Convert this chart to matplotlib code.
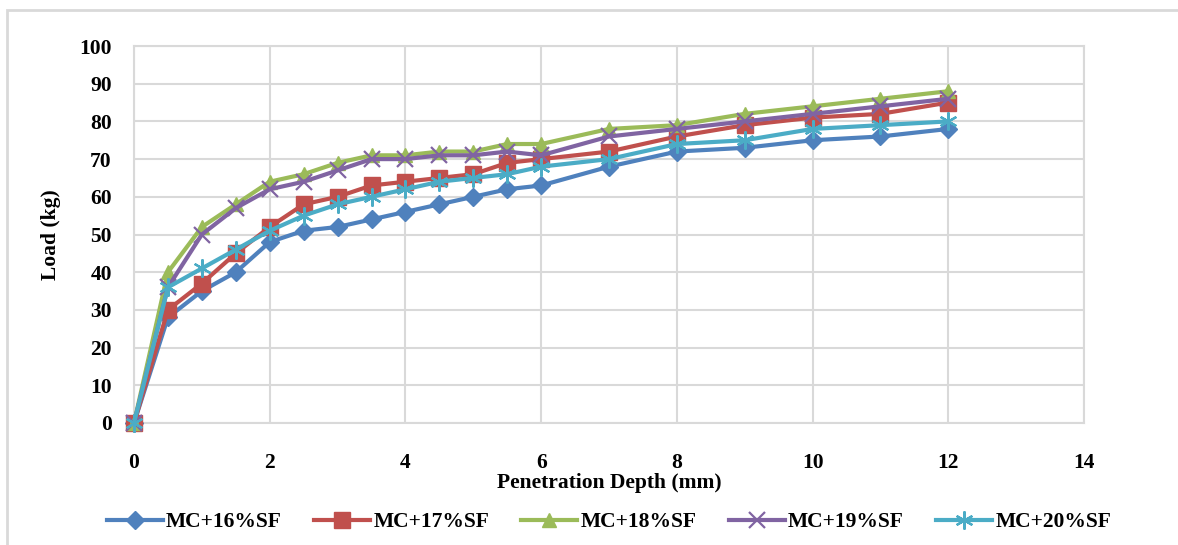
import matplotlib.pyplot as plt
from matplotlib.patches import Rectangle

# Data
depth = [0, 0.5, 1, 1.5, 2, 2.5, 3, 3.5, 4, 4.5, 5, 5.5, 6, 7, 8, 9, 10, 11, 12]

load_16 = [0, 28, 35, 40, 48, 51, 52, 54, 56, 58, 60, 62, 63, 68, 72, 73, 75, 76, 78]
load_17 = [0, 30, 37, 45, 52, 58, 60, 63, 64, 65, 66, 69, 70, 72, 76, 79, 81, 82, 85]
load_18 = [0, 40, 52, 58, 64, 66, 69, 71, 71, 72, 72, 74, 74, 78, 79, 82, 84, 86, 88]
load_19 = [0, 36, 50, 57, 62, 64, 67, 70, 70, 71, 71, 72, 71, 76, 78, 80, 82, 84, 86]
load_20 = [0, 36, 41, 46, 51, 55, 58, 60, 62, 64, 65, 66, 68, 70, 74, 75, 78, 79, 80]

labels = ['MC+16%SF', 'MC+17%SF', 'MC+18%SF', 'MC+19%SF', 'MC+20%SF']
series = [load_16, load_17, load_18, load_19, load_20]
colors = ['#4F81BD', '#C0504D', '#9BBB59', '#8064A2', '#4BACC6']
markers = ['D', 's', '^', 'x', (6, 2, 0)]
msizes = [9, 11, 10, 11, 13]

plt.rcParams['font.family'] = ['Liberation Serif', 'DejaVu Serif']
plt.rcParams['font.weight'] = 'bold'
fs = 15.5

fig = plt.figure(figsize=(11.78, 5.45), dpi=100)

# outer chart border
fig.patches.append(Rectangle((7 / 1178, -0.1), 1.2, 1.1 - 10 / 545,
                             transform=fig.transFigure, fill=False,
                             edgecolor='#d9d9d9', linewidth=2))

ax = fig.add_axes([134 / 1178, 1 - 423 / 545, (1084 - 134) / 1178, (423 - 46) / 545])

for y, lab, c, m, ms in zip(series, labels, colors, markers, msizes):
    ax.plot(depth, y, color=c, linewidth=3, marker=m, markersize=ms,
            markeredgewidth=1.6 if m == 'x' or isinstance(m, tuple) else 1,
            markeredgecolor=c, label=lab, zorder=3, clip_on=False)

ax.set_xlim(0, 14)
ax.set_ylim(0, 100)
ax.set_xticks(range(0, 15, 2))
ax.set_yticks(range(0, 101, 10))
ax.grid(True, color='#d9d9d9', linewidth=1.5)
ax.set_axisbelow(True)
for s in ax.spines.values():
    s.set_color('#d9d9d9')
    s.set_linewidth(1.5)
ax.tick_params(axis='x', length=0, labelsize=fs, pad=21.5)
ax.tick_params(axis='y', length=0, labelsize=fs, pad=16)
for t in ax.get_xticklabels() + ax.get_yticklabels():
    t.set_fontweight('bold')

ax.set_xlabel('Penetration Depth (mm)', fontsize=fs, fontweight='bold', labelpad=0)
ax.set_ylabel('Load (kg)', fontsize=fs, fontweight='bold', labelpad=13)

leg = ax.legend(loc='center', bbox_to_anchor=(0.5, -0.263), ncol=5,
                frameon=False, fontsize=fs, handlelength=2.6, columnspacing=1.5,
                handletextpad=0.15)
for t in leg.get_texts():
    t.set_fontweight('bold')

fig.savefig('out.png', dpi=100)
